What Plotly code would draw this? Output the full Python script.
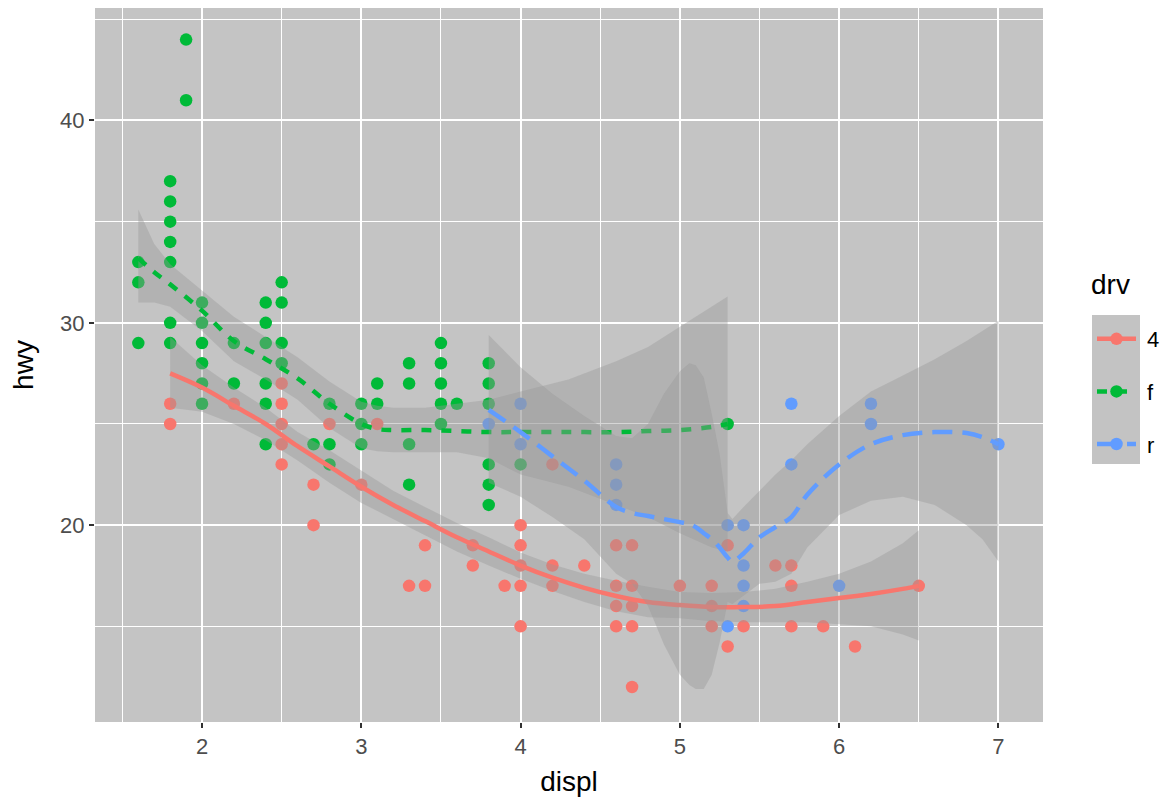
import plotly.graph_objects as go

# ---------------- data ----------------
drv_levels = ["4", "f", "r"]
colors = {"4": "#F8766D", "f": "#00BA38", "r": "#619CFF"}
dashes = {"4": "solid", "f": "10px,10px", "r": "20px,10px"}

displ_4 = [1.8, 1.8, 2.2, 2.5, 2.5, 2.5, 2.5, 2.5, 2.7, 2.7, 2.8, 3.0, 3.1, 3.3, 3.4, 3.4,
           3.7, 3.7, 3.9, 4.0, 4.0, 4.0, 4.0, 4.0, 4.2, 4.2, 4.2, 4.4, 4.6, 4.6, 4.6, 4.6,
           4.7, 4.7, 4.7, 4.7, 4.7, 5.0, 5.2, 5.2, 5.2, 5.3, 5.3, 5.4, 5.6, 5.7, 5.7, 5.7,
           5.9, 6.1, 6.5]
hwy_4 = [26, 25, 26, 27, 26, 25, 24, 23, 22, 20, 25, 22, 25, 17, 19, 17,
         19, 18, 17, 20, 19, 18, 17, 15, 23, 18, 17, 18, 19, 17, 16, 15,
         19, 17, 16, 15, 12, 17, 17, 16, 15, 19, 14, 15, 18, 18, 17, 15,
         15, 14, 17]

displ_f = [1.6, 1.6, 1.6, 1.8, 1.8, 1.8, 1.8, 1.8, 1.8, 1.8, 1.9, 1.9,
           2.0, 2.0, 2.0, 2.0, 2.0, 2.0, 2.2, 2.2, 2.4, 2.4, 2.4, 2.4, 2.4, 2.4,
           2.5, 2.5, 2.5, 2.5, 2.7, 2.8, 2.8, 2.8, 3.0, 3.0, 3.0, 3.1, 3.1,
           3.3, 3.3, 3.3, 3.3, 3.5, 3.5, 3.5, 3.5, 3.5, 3.6,
           3.8, 3.8, 3.8, 3.8, 3.8, 3.8, 4.0, 5.3]
hwy_f = [33, 32, 29, 37, 36, 35, 34, 33, 30, 29, 44, 41,
         31, 30, 29, 28, 27, 26, 29, 27, 31, 30, 29, 27, 26, 24,
         32, 31, 29, 28, 24, 26, 24, 23, 26, 25, 24, 27, 26,
         28, 27, 24, 22, 29, 28, 27, 26, 25, 26,
         28, 27, 26, 23, 22, 21, 23, 25]

displ_r = [3.8, 4.0, 4.0, 4.6, 4.6, 4.6, 5.3, 5.3, 5.4, 5.4, 5.4, 5.4, 5.7, 5.7, 6.0, 6.2, 6.2, 7.0]
hwy_r = [25, 26, 24, 23, 22, 21, 20, 15, 20, 18, 17, 16, 26, 23, 17, 26, 25, 24]

# smooth curves (loess fit and confidence band)
sx_4 = [1.8, 2.0, 2.2, 2.4, 2.6, 2.8, 3.0, 3.2, 3.4, 3.6, 3.8, 4.0, 4.2, 4.4, 4.6, 4.8,
        5.0, 5.2, 5.4, 5.6, 5.8, 6.0, 6.2, 6.4, 6.5]
fit_4 = [27.5, 26.8, 25.9, 25.0, 23.9, 22.9, 21.9, 21.0, 20.2, 19.4, 18.7, 18.0, 17.4, 16.9,
         16.5, 16.2, 16.05, 15.95, 15.95, 16.0, 16.2, 16.4, 16.6, 16.85, 17.0]
lo_4 = [25.8, 25.6, 25.0, 24.2, 23.2, 22.1, 21.1, 20.3, 19.5, 18.7, 18.0, 17.35, 16.75,
        16.2, 15.75, 15.45, 15.4, 15.25, 15.2, 15.2, 15.2, 15.1, 15.0, 14.6, 14.3]
hi_4 = [29.3, 27.9, 26.8, 25.8, 24.6, 23.7, 22.7, 21.7, 20.9, 20.1, 19.4, 18.65, 18.05,
        17.6, 17.25, 16.95, 16.7, 16.65, 16.7, 16.85, 17.2, 17.6, 18.2, 19.1, 19.75]

sx_f = [1.6, 1.7, 1.8, 2.0, 2.2, 2.4, 2.6, 2.8, 3.0, 3.1, 3.2, 3.4, 3.6, 3.8, 4.0, 4.3,
        4.6, 4.8, 5.0, 5.2, 5.3]
fit_f = [33.2, 32.5, 31.9, 30.6, 29.1, 28.2, 27.25, 26.0, 25.0, 24.75, 24.7, 24.7, 24.65,
         24.6, 24.6, 24.6, 24.6, 24.65, 24.7, 24.85, 25.0]
lo_f = [31.0, 31.0, 30.8, 29.6, 28.1, 27.2, 26.2, 24.8, 23.8, 23.65, 23.6, 23.6, 23.6,
        23.3, 22.5, 21.9, 21.0, 20.4, 19.6, 18.9, 18.7]
hi_f = [35.6, 33.9, 32.9, 31.6, 30.3, 29.3, 28.3, 27.1, 26.1, 25.9, 25.8, 25.8, 26.0,
        26.2, 26.6, 27.2, 28.1, 28.8, 29.8, 30.8, 31.3]

sx_r = [3.8, 4.0, 4.2, 4.4, 4.6, 4.7, 4.8, 4.9, 5.0, 5.06, 5.1, 5.15, 5.2, 5.25, 5.3, 5.33,
        5.4, 5.5, 5.6, 5.7, 5.8, 6.0, 6.2, 6.4, 6.6, 6.8, 6.9, 7.0]
fit_r = [25.7, 24.6, 23.4, 22.2, 20.9, 20.6, 20.45, 20.3, 20.15, 20.05, 19.9, 19.6, 19.3,
         18.9, 18.4, 18.2, 18.6, 19.4, 19.9, 20.4, 21.5, 23.0, 24.0, 24.45, 24.6, 24.55,
         24.35, 24.0]
lo_r = [22.1, 21.4, 20.4, 19.3, 17.6, 17.1, 16.0, 14.1, 12.6, 12.1, 11.9, 11.9, 12.6,
        14.2, 16.2, 16.1, 16.5, 17.1, 17.2, 17.6, 18.9, 20.5, 21.2, 21.4, 21.0, 20.0,
        19.3, 18.2]
hi_r = [29.4, 27.8, 26.5, 25.4, 24.4, 24.3, 25.0, 26.5, 27.6, 28.0, 27.9, 27.3, 25.5,
        23.5, 20.6, 20.3, 20.9, 21.7, 22.5, 23.2, 24.0, 25.4, 26.6, 27.4, 28.2, 29.1,
        29.6, 30.1]

x_ticks = [2, 3, 4, 5, 6, 7]
y_ticks = [20, 30, 40]

points = {"4": (displ_4, hwy_4), "f": (displ_f, hwy_f), "r": (displ_r, hwy_r)}
smooths = {"4": (sx_4, fit_4, lo_4, hi_4), "f": (sx_f, fit_f, lo_f, hi_f),
           "r": (sx_r, fit_r, lo_r, hi_r)}

FONT = "Liberation Sans, Arial, Helvetica, sans-serif"
RIBBON = "rgba(153,153,153,0.4)"
PANEL = "#C4C4C4"

# page has an 8px body margin; figure is sized to fit inside the window
W, H = 1160, 789
ML, MR, MT, MB = 87, 125, 0, 75
PW, PH = W - ML - MR, H - MT - MB

fig = go.Figure()

# points first
for d in drv_levels:
    xs, ys = points[d]
    fig.add_trace(go.Scatter(x=xs, y=ys, mode="markers",
                             marker=dict(color=colors[d], size=12.5, line=dict(width=0)),
                             showlegend=False, hoverinfo="skip"))

# smooth: ribbon then line, per group
for d in drv_levels:
    sx, fit, lo, hi = smooths[d]
    fig.add_trace(go.Scatter(x=list(sx) + list(sx[::-1]), y=list(hi) + list(lo[::-1]),
                             mode="lines", fill="toself", fillcolor=RIBBON,
                             line=dict(width=0, color="rgba(0,0,0,0)"),
                             showlegend=False, hoverinfo="skip"))
    fig.add_trace(go.Scatter(x=sx, y=fit, mode="lines",
                             line=dict(color=colors[d], width=4.5, dash=dashes[d], shape="spline"),
                             showlegend=False, hoverinfo="skip"))

# legend entries
for d in drv_levels:
    fig.add_trace(go.Scatter(x=[None], y=[None], mode="lines+markers",
                             name="\u00a0" + d,
                             legendgroup=d,
                             marker=dict(color=colors[d], size=12.5),
                             line=dict(color=colors[d], width=4.5, dash=dashes[d])))

axis_common = dict(showgrid=True, gridcolor="white", gridwidth=2, zeroline=False,
                   ticks="outside", ticklen=5, tickwidth=1.5, tickcolor="#333333",
                   tickfont=dict(family=FONT, size=22, color="#4D4D4D"),
                   showline=False)


def px_x(page_x):
    return (page_x - 8 - ML) / PW


def px_y(page_y):
    return 1 - (page_y - 8 - MT) / PH


fig.update_layout(
    width=W, height=H,
    margin=dict(l=ML, r=MR, t=MT, b=MB, autoexpand=False),
    paper_bgcolor="white", plot_bgcolor=PANEL,
    font=dict(family=FONT),
    xaxis=dict(range=[1.328, 7.28], tickvals=x_ticks,
               minor=dict(dtick=0.5, tick0=0, showgrid=True, gridcolor="white", gridwidth=1),
               title=dict(text="displ", font=dict(family=FONT, size=28, color="black"), standoff=17),
               **axis_common),
    yaxis=dict(range=[10.27, 45.56], tickvals=y_ticks,
               minor=dict(dtick=5, tick0=0, showgrid=True, gridcolor="white", gridwidth=1),
               title=dict(text="hwy", font=dict(family=FONT, size=28, color="black"), standoff=18),
               **axis_common),
    legend=dict(x=px_x(1092), xanchor="left", y=px_y(318), yanchor="top",
                bgcolor="rgba(0,0,0,0)",
                font=dict(family=FONT, size=22, color="black"),
                tracegroupgap=21, itemwidth=39),
    annotations=[dict(text="drv", xref="paper", yref="paper", x=px_x(1089), y=px_y(285),
                      xanchor="left", yanchor="middle", showarrow=False,
                      font=dict(family=FONT, size=28, color="black"))],
    shapes=[dict(type="rect", xref="paper", yref="paper",
                 x0=px_x(1092), x1=px_x(1140), y0=px_y(464), y1=px_y(315),
                 fillcolor="#C3C3C3", line=dict(width=0), layer="below")],
)

fig.write_html("out.html")
